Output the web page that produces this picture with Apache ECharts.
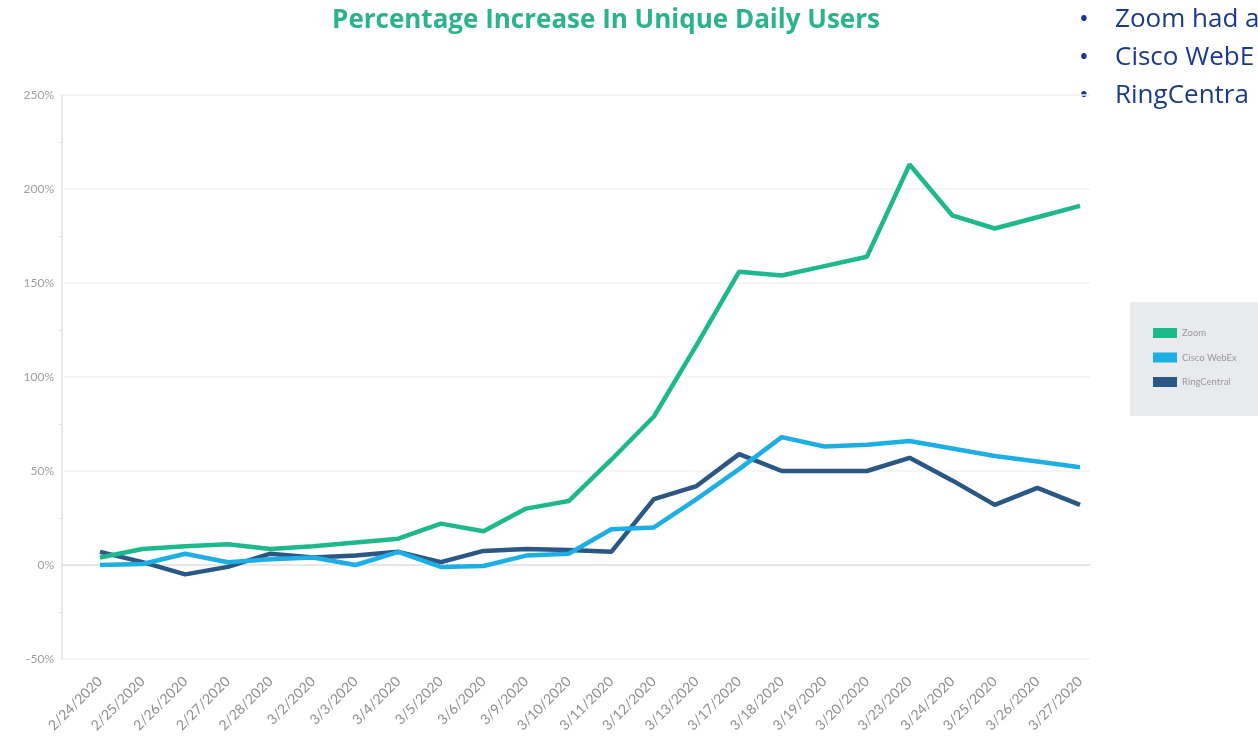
<!DOCTYPE html>
<html>
<head>
<meta charset="utf-8">
<script src="https://cdn.jsdelivr.net/npm/echarts@6/dist/echarts.min.js"></script>
<style>
html,body{margin:0;padding:0;background:#fff;}
#chart{width:1258px;height:747px;}
</style>
</head>
<body>
<div id="chart"></div>
<script>
const categories = ['2/24/2020','2/25/2020','2/26/2020','2/27/2020','2/28/2020','3/2/2020','3/3/2020','3/4/2020','3/5/2020','3/6/2020','3/9/2020','3/10/2020','3/11/2020','3/12/2020','3/13/2020','3/17/2020','3/18/2020','3/19/2020','3/20/2020','3/23/2020','3/24/2020','3/25/2020','3/26/2020','3/27/2020'];
const zoomValues = [4, 8.5, 10, 11, 8.5, 10, 12, 14, 22, 18, 30, 34, 56, 79, 117, 156, 154, 159, 164, 213, 186, 179, 185, 191];
const webexValues = [0, 0.5, 6, 1.5, 3, 4, 0, 7, -1, -0.5, 5, 6, 19, 20, 35, 51, 68, 63, 64, 66, 62, 58, 55, 52];
const ringValues = [7, 1.5, -5, -1, 6, 4, 5, 7, 1.5, 7.5, 8.5, 8, 7, 35, 42, 59, 50, 50, 50, 57, 45, 32, 41, 32];
const seriesNames = ['Zoom', 'Cisco WebEx', 'RingCentral'];
const bulletLines = ['Zoom had a', 'Cisco WebE', 'RingCentra'];
const yTicks = {min: -50, max: 250, interval: 50};

const colors = ['#1DB98B', '#1DAEE3', '#2A5783'];
const chart = echarts.init(document.getElementById('chart'));

const bulletGraphics = [];
bulletLines.forEach((t, i) => {
  bulletGraphics.push({type: 'text', left: 1079, top: 7 + i * 38,
    style: {text: '•', fill: '#1A3A8C', font: '26px "Open Sans"'}});
  bulletGraphics.push({type: 'text', left: 1115, top: 7 + i * 38,
    style: {text: t, fill: '#1A3A8C', font: '26px "Open Sans"'}});
});

chart.setOption({
  animation: false,
  backgroundColor: '#fff',
  color: colors,
  title: {
    text: 'Percentage Increase In Unique Daily Users',
    left: 601, top: 3, textAlign: 'center',
    textStyle: {color: '#2BB38B', fontSize: 26, fontWeight: 700, fontFamily: 'Open Sans'}
  },
  legend: {
    data: seriesNames,
    orient: 'vertical',
    left: 1130, top: 302,
    backgroundColor: '#E9EAEE',
    padding: [26, 60, 29, 23],
    itemWidth: 24, itemHeight: 10, itemGap: 14.5,
    icon: 'rect',
    textStyle: {fontSize: 9.5, color: '#999', fontFamily: 'Lato'}
  },
  grid: [
    {left: 62, right: 168, top: 95, bottom: 88},
    {left: 100, right: 178, top: 95, bottom: 88}
  ],
  xAxis: [
    {gridIndex: 0, type: 'value', min: 0, max: 1, axisLabel: {show: false}, axisTick: {show: false},
     splitLine: {show: false}, axisLine: {show: true, lineStyle: {color: '#E2E2E2', width: 1.5}}},
    {gridIndex: 1, type: 'category', boundaryGap: false, data: categories,
     axisLine: {show: false}, axisTick: {show: false},
     axisLabel: {rotate: 45, fontSize: 14, color: '#8F8F8F', margin: 20, interval: 0, fontFamily: 'Lato'}}
  ],
  yAxis: [
    {gridIndex: 0, type: 'value', min: yTicks.min, max: yTicks.max, interval: yTicks.interval,
     axisLabel: {formatter: '{value}%', color: '#A0A0A0', fontSize: 12, margin: 8, fontFamily: 'Lato'},
     axisLine: {show: true, lineStyle: {color: '#E2E2E2', width: 1.5}},
     axisTick: {show: false},
     minorTick: {show: true, splitNumber: 2, length: 3, lineStyle: {color: '#DDD'}},
     splitLine: {lineStyle: {color: '#F2F2F2', width: 1.5}}},
    {gridIndex: 1, type: 'value', min: yTicks.min, max: yTicks.max, interval: yTicks.interval,
     show: false, splitLine: {show: false}}
  ],
  series: [
    {name: seriesNames[0], type: 'line', xAxisIndex: 1, yAxisIndex: 1, data: zoomValues,
     showSymbol: false, lineStyle: {width: 4.5, color: colors[0]}, z: 3},
    {name: seriesNames[1], type: 'line', xAxisIndex: 1, yAxisIndex: 1, data: webexValues,
     showSymbol: false, lineStyle: {width: 4.5, color: colors[1]}, z: 2},
    {name: seriesNames[2], type: 'line', xAxisIndex: 1, yAxisIndex: 1, data: ringValues,
     showSymbol: false, lineStyle: {width: 4.5, color: colors[2]}, z: 1}
  ],
  graphic: bulletGraphics
});
</script>
</body>
</html>
